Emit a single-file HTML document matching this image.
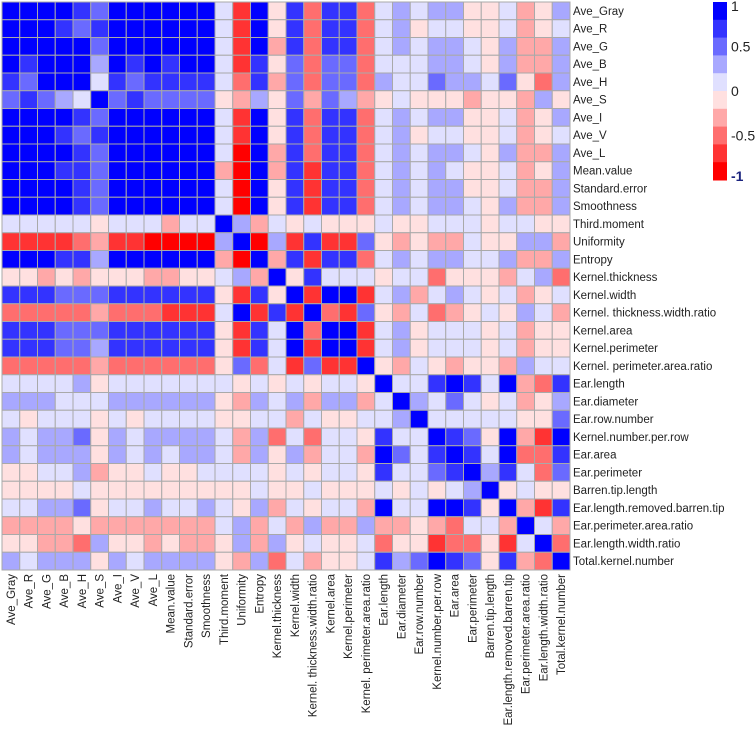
<!DOCTYPE html>
<html><head><meta charset="utf-8">
<style>
html,body{margin:0;padding:0;background:#fff;width:756px;height:734px;overflow:hidden}
svg{display:block}
text{font-family:"Liberation Sans",Arial,sans-serif;fill:#222}
</style></head>
<body>
<svg id="chart" width="756" height="734" viewBox="0 0 756 734"></svg>
<script>
const variables = ["Ave_Gray","Ave_R","Ave_G","Ave_B","Ave_H","Ave_S","Ave_I","Ave_V","Ave_L","Mean.value","Standard.error","Smoothness","Third.moment","Uniformity","Entropy","Kernel.thickness","Kernel.width","Kernel. thickness.width.ratio","Kernel.area","Kernel.perimeter","Kernel. perimeter.area.ratio","Ear.length","Ear.diameter","Ear.row.number","Kernel.number.per.row","Ear.area","Ear.perimeter","Barren.tip.length","Ear.length.removed.barren.tip","Ear.perimeter.area.ratio","Ear.length.width.ratio","Total.kernel.number"];
const corr = [
[.9,.9,.9,.9,.7,.5,.9,.9,.9,.9,.9,.9,.1,-.7,.9,-.1,.7,-.5,.7,.7,-.5,.1,.3,.1,.3,.3,-.1,-.1,.1,-.3,-.1,.3],
[.9,.9,.9,.7,.5,.7,.9,.9,.9,.9,.9,.9,.1,-.7,.9,-.1,.7,-.5,.7,.7,-.5,.1,.3,-.1,.1,.1,-.1,-.1,.1,-.3,-.1,.1],
[.9,.9,.9,.9,.9,.5,.9,.9,.9,.9,.9,.9,.1,-.7,.9,-.3,.7,-.5,.7,.7,-.5,.1,.3,.1,.3,.3,.1,-.1,.3,-.3,-.3,.3],
[.9,.7,.9,.9,.9,.3,.9,.7,.9,.7,.9,.9,.1,-.7,.7,-.1,.5,-.5,.5,.5,-.5,.1,.1,.1,.3,.3,.1,-.1,.3,-.3,-.3,.3],
[.7,.5,.9,.9,.9,.1,.7,.5,.7,.7,.7,.7,.1,-.5,.7,-.3,.5,-.5,.5,.5,-.5,.3,.1,.1,.5,.3,.3,.1,.5,-.1,-.5,.3],
[.5,.7,.5,.3,.1,.9,.5,.7,.5,.5,.5,.5,-.1,-.3,.3,-.1,.5,-.3,.5,.3,-.3,-.1,.1,-.1,-.1,-.1,-.3,-.1,-.1,-.3,.3,-.1],
[.9,.9,.9,.9,.7,.5,.9,.9,.9,.9,.9,.9,.1,-.7,.9,-.1,.7,-.5,.7,.7,-.5,.1,.3,.1,.3,.3,-.1,-.1,.1,-.3,-.1,.3],
[.9,.9,.9,.7,.5,.7,.9,.9,.9,.9,.9,.9,.1,-.7,.9,-.1,.7,-.5,.7,.7,-.5,.1,.3,-.1,.1,.1,-.1,-.1,.1,-.3,-.1,.1],
[.9,.9,.9,.9,.7,.5,.9,.9,.9,.9,.9,.9,.1,-.9,.9,-.3,.7,-.5,.7,.7,-.5,.1,.3,.1,.3,.3,.1,-.1,.3,-.3,-.3,.3],
[.9,.9,.9,.7,.7,.5,.9,.9,.9,.9,.9,.9,-.3,-.9,.9,-.3,.7,-.7,.7,.7,-.5,.1,.3,.1,.3,.1,-.1,-.1,.1,-.3,-.1,.3],
[.9,.9,.9,.9,.7,.5,.9,.9,.9,.9,.9,.9,.1,-.9,.9,-.1,.7,-.7,.7,.7,-.5,.1,.3,.1,.3,.3,-.1,-.1,.1,-.3,-.3,.3],
[.9,.9,.9,.9,.7,.5,.9,.9,.9,.9,.9,.9,.1,-.9,.9,-.1,.7,-.7,.7,.7,-.5,.1,.3,.1,.3,.3,.1,-.1,.3,-.3,-.3,.3],
[.1,.1,.1,.1,.1,-.1,.1,.1,.1,-.3,.1,.1,.9,.3,-.3,.1,-.1,.1,-.1,-.1,-.1,.1,-.1,-.1,.1,.1,.1,-.1,.1,.1,-.1,-.1],
[-.7,-.7,-.7,-.7,-.5,-.3,-.7,-.7,-.9,-.9,-.9,-.9,.3,.9,-.9,.3,-.7,.7,-.7,-.7,.5,-.1,-.3,-.1,-.3,-.3,.1,-.1,-.1,.3,.3,-.3],
[.9,.9,.9,.7,.7,.3,.9,.9,.9,.9,.9,.9,-.3,-.9,.9,-.3,.7,-.7,.7,.7,-.5,.1,.3,.1,.3,.3,.1,.1,.3,-.3,-.3,.3],
[-.1,-.1,-.3,-.1,-.3,-.1,-.1,-.1,-.3,-.3,-.1,-.1,.1,.3,-.3,.9,-.1,.7,.1,.1,.1,-.1,.1,.1,-.5,-.1,-.1,-.1,-.3,.1,.3,-.5],
[.7,.7,.7,.5,.5,.5,.7,.7,.7,.7,.7,.7,-.1,-.7,.7,-.1,.9,-.7,.9,.9,-.7,.1,.3,-.3,.1,.3,.1,-.1,.1,-.3,-.1,.1],
[-.5,-.5,-.5,-.5,-.5,-.3,-.5,-.5,-.5,-.7,-.7,-.7,.1,.9,-.7,.7,-.7,.9,-.5,-.7,.5,-.1,-.3,.1,-.5,-.3,-.1,.1,-.1,.3,.1,-.3],
[.7,.7,.7,.5,.5,.5,.7,.7,.7,.7,.7,.7,-.1,-.7,.7,.1,.9,-.5,.9,.9,-.7,.1,.3,-.1,.1,.1,.1,-.1,.1,-.3,-.1,-.1],
[.7,.7,.7,.5,.5,.3,.7,.7,.7,.7,.7,.7,-.1,-.7,.7,.1,.9,-.7,.9,.9,-.7,.1,.3,-.1,.1,.1,.1,-.1,.1,-.3,-.1,-.1],
[-.5,-.5,-.5,-.5,-.5,-.3,-.5,-.5,-.5,-.5,-.5,-.5,-.1,.5,-.5,.1,-.7,.5,-.7,-.7,.9,-.1,-.3,.1,-.1,-.3,-.1,-.1,-.3,.3,.1,.1],
[.1,.1,.1,.1,.3,-.1,.1,.1,.1,.1,.1,.1,.1,-.1,.1,-.1,.1,-.1,.1,.1,-.1,.9,.1,.1,.7,.9,.7,.1,.9,-.3,-.5,.7],
[.3,.3,.3,.1,.1,.1,.3,.3,.3,.3,.3,.3,-.1,-.3,.3,.1,.3,-.3,.3,.3,-.3,.1,.9,.3,.1,.5,.1,-.1,.1,-.3,-.1,.3],
[.1,-.1,.1,.1,.1,-.1,.1,-.1,.1,.1,.1,.1,-.1,-.1,.1,.1,-.3,.1,-.1,-.1,.1,.1,.3,.9,.1,.1,.1,.1,.1,-.1,-.1,.5],
[.3,.1,.3,.3,.5,-.1,.3,.1,.3,.3,.3,.3,.1,-.3,.3,-.5,.1,-.5,.1,.1,-.1,.7,.1,.1,.9,.7,.5,-.1,.9,-.3,-.7,.9],
[.3,.1,.3,.3,.3,-.1,.3,.1,.3,.1,.3,.3,.1,-.3,.3,-.1,.3,-.3,.1,.1,-.3,.9,.5,.1,.7,.9,.7,.1,.9,-.5,-.5,.7],
[-.1,-.1,.1,.1,.3,-.3,-.1,-.1,.1,-.1,-.1,.1,.1,.1,.1,-.1,.1,-.1,.1,.1,-.1,.7,.1,.1,.5,.7,.9,.3,.7,.1,-.5,.5],
[-.1,-.1,-.1,-.1,.1,-.1,-.1,-.1,-.1,-.1,-.1,-.1,-.1,-.1,.1,-.1,-.1,.1,-.1,-.1,-.1,.1,-.1,.1,-.1,.1,.3,.9,-.1,.1,-.1,-.1],
[.1,.1,.3,.3,.5,-.1,.1,.1,.3,.1,.1,.3,.1,-.1,.3,-.3,.1,-.1,.1,.1,-.3,.9,.1,.1,.9,.9,.7,-.1,.9,-.3,-.7,.7],
[-.3,-.3,-.3,-.3,-.1,-.3,-.3,-.3,-.3,-.3,-.3,-.3,.1,.3,-.3,.1,-.3,.3,-.3,-.3,.3,-.3,-.3,-.1,-.3,-.5,.1,.1,-.3,.9,.1,-.3],
[-.1,-.1,-.3,-.3,-.5,.3,-.1,-.1,-.3,-.1,-.3,-.3,-.1,.3,-.3,.3,-.1,.1,-.1,-.1,.1,-.5,-.1,-.1,-.7,-.5,-.5,-.1,-.7,.1,.9,-.5],
[.3,.1,.3,.3,.3,-.1,.3,.1,.3,.3,.3,.3,-.1,-.3,.3,-.5,.1,-.3,-.1,-.1,.1,.7,.3,.5,.9,.7,.5,-.1,.7,-.3,-.5,.9]
];
const legendTicks = [1, 0.5, 0, -0.5, -1];
const legendTickLabels = ["1","0.5","0","-0.5","-1"];

const NS = "http://www.w3.org/2000/svg";
const svg = document.getElementById("chart");
const X0 = 2, Y0 = 2, CELL = 17.75;
const palette = ["#0000FF","#3333FF","#6A6AFF","#A8A8FF","#E0E0FF","#FFE0E0","#FFA8A8","#FF6E6E","#FF3333","#FF0000"];
function colorOf(v){ let i = Math.floor((1 - v) / 0.2); if (i < 0) i = 0; if (i > 9) i = 9; return palette[i]; }
function xPos(j){ return X0 + j * CELL; }
function yPos(i){ return Y0 + i * CELL; }
function mk(tag, attrs){ const e = document.createElementNS(NS, tag); for (const k in attrs) e.setAttribute(k, attrs[k]); svg.appendChild(e); return e; }

corr.forEach((row, i) => {
  row.forEach((v, j) => {
    const r = mk("rect", {x: xPos(j), y: yPos(i), width: CELL, height: CELL, fill: colorOf(v), stroke: "#a9a9a9", "stroke-width": 1});
    
    
  });
});
variables.forEach((name, i) => {
  const t = mk("text", {x: xPos(32) + 3, y: yPos(i) + CELL / 2 + 4, "font-size": 11.5});
  t.textContent = name;
  
  
  const cx = xPos(i) + CELL / 2 + 4, cy = yPos(32) + 4;
  const b = mk("text", {x: cx, y: cy, "font-size": 11.5, "text-anchor": "end", transform: `rotate(-90 ${cx} ${cy})`});
  b.textContent = name;
  
  
});
// legend
const LX = 713, LY = 2, LW = 14, LH = 178;
palette.forEach((c, k) => {
  const r = mk("rect", {x: LX, y: LY + k * LH / 10, width: LW, height: LH / 10 + 0.5, fill: c});
  
  
});
function legY(v){ return LY + (1 - v) / 2 * LH; }
legendTicks.forEach((v, k) => {
  let y = legY(v) + 5;
  if (k === 0) y = legY(v) + 9;
  if (k === legendTicks.length - 1) y = legY(v) + 1;
  const t = mk("text", {x: LX + LW + 4, y: y, "font-size": 14});
  t.textContent = legendTickLabels[k];
  if (k === legendTicks.length - 1) { t.setAttribute("font-weight", "bold"); t.setAttribute("style", "fill:#1a237e"); }
  
  
});
</script>
</body></html>
